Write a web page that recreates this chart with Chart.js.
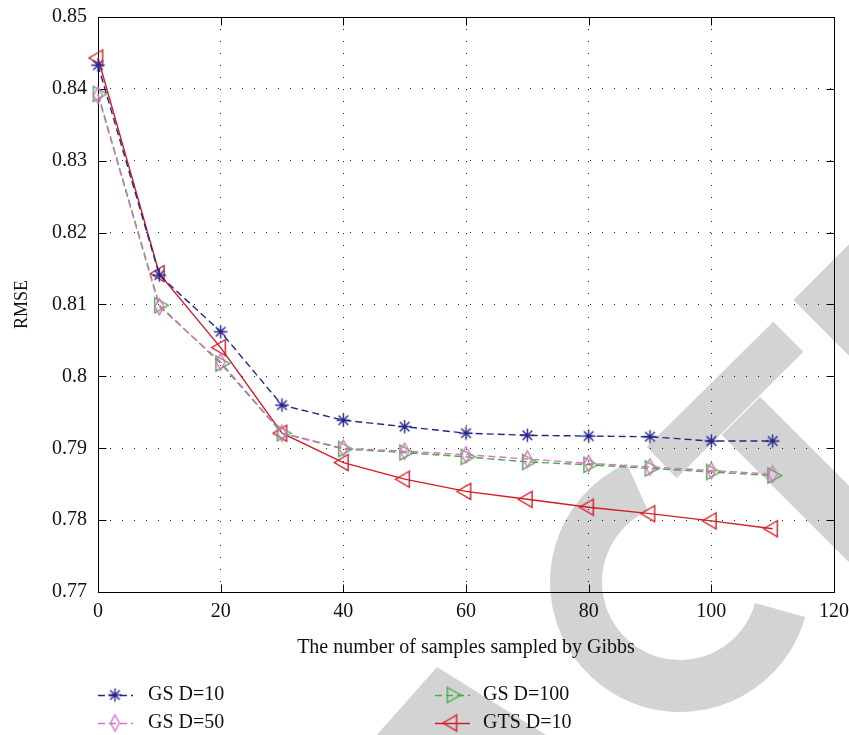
<!DOCTYPE html>
<html>
<head>
<meta charset="utf-8">
<script src="https://cdn.jsdelivr.net/npm/chart.js@4.4.0/dist/chart.umd.min.js"></script>
<style>
  html, body { margin: 0; padding: 0; background: #fff; }
  #wrap { width: 849px; height: 735px; }
</style>
</head>
<body>
<div id="wrap"><canvas id="chart" width="849" height="735"></canvas></div>
<script>
// ---- data ----
const samples = [0, 10, 20, 30, 40, 50, 60, 70, 80, 90, 100, 110];
const gsD10  = [0.8433, 0.8141, 0.8062, 0.7960, 0.7939, 0.7930, 0.7921, 0.7918, 0.7917, 0.7916, 0.7910, 0.7910];
const gsD50  = [0.8391, 0.8097, 0.8020, 0.7921, 0.7900, 0.7896, 0.7891, 0.7885, 0.7879, 0.7874, 0.7869, 0.7864];
const gsD100 = [0.8393, 0.8099, 0.8018, 0.7921, 0.7899, 0.7894, 0.7888, 0.7881, 0.7877, 0.7872, 0.7867, 0.7862];
const gtsD10 = [0.8443, 0.8143, 0.8040, 0.7921, 0.7880, 0.7857, 0.7840, 0.7829, 0.7818, 0.7809, 0.7799, 0.7788];

const seriesLabels = ["GS D=10", "GS D=50", "GS D=100", "GTS D=10"];
const xTitle = "The number of samples sampled by Gibbs";
const yTitle = "RMSE";

// colours
const BLUE  = "rgb(38,38,138)";
const PINK  = "rgb(216,112,196)";
const GREEN = "rgb(72,170,72)";
const RED   = "rgb(212,28,38)";
const SERIF = "'Liberation Serif', 'Times New Roman', serif";

// ---- matlab-like marker glyphs ----
function glyph(w, h, draw) {
  const c = document.createElement("canvas");
  c.width = w; c.height = h;
  const g = c.getContext("2d");
  g.lineWidth = 1.4;
  draw(g, w / 2, h / 2);
  return c;
}

const starMark = glyph(17, 17, (g, cx, cy) => {
  const r = 6.8, d = r / Math.SQRT2;
  g.strokeStyle = BLUE;
  g.beginPath();
  g.moveTo(cx - r, cy); g.lineTo(cx + r, cy);
  g.moveTo(cx, cy - r); g.lineTo(cx, cy + r);
  g.moveTo(cx - d, cy - d); g.lineTo(cx + d, cy + d);
  g.moveTo(cx - d, cy + d); g.lineTo(cx + d, cy - d);
  g.stroke();
});

const diamondMark = glyph(13, 21, (g, cx, cy) => {
  g.strokeStyle = PINK;
  g.beginPath();
  g.moveTo(cx, cy - 8); g.lineTo(cx + 4.5, cy);
  g.lineTo(cx, cy + 8); g.lineTo(cx - 4.5, cy);
  g.closePath(); g.stroke();
});

const triRightMark = glyph(21, 21, (g, cx, cy) => {
  g.strokeStyle = GREEN;
  g.beginPath();
  g.moveTo(cx - 4.7, cy - 7.5); g.lineTo(cx + 9, cy);
  g.lineTo(cx - 4.7, cy + 7.5);
  g.closePath(); g.stroke();
});

const triLeftMark = glyph(21, 21, (g, cx, cy) => {
  g.strokeStyle = RED;
  g.beginPath();
  g.moveTo(cx + 4.7, cy - 8); g.lineTo(cx - 9, cy);
  g.lineTo(cx + 4.7, cy + 8);
  g.closePath(); g.stroke();
});

function series(label, data, color, mark, dash) {
  return {
    label, data: samples.map((x, i) => ({ x, y: data[i] })),
    borderColor: color, borderWidth: 1.4, borderDash: dash,
    pointStyle: mark, pointRadius: 8, pointHoverRadius: 8,
    fill: false, tension: 0, clip: false
  };
}

// ---- grey watermark that sits behind the figure ----
const watermark = {
  id: "watermark",
  beforeDraw(chart) {
    const ctx = chart.ctx;
    ctx.save();
    ctx.fillStyle = ctx.strokeStyle = "rgb(211,211,211)";
    ctx.lineWidth = 52;
    ctx.beginPath();
    ctx.arc(680, 582, 104, 15.6 * Math.PI / 180, 245.8 * Math.PI / 180);
    ctx.stroke();
    const polys = [
      [[646.7, 446.7], [773.3, 321.7], [803.3, 351.7], [676.7, 478.3]],
      [[760, 396.7], [900, 536.7], [900, 613.3], [721.7, 435]],
      [[793.3, 300], [900, 193.3], [900, 406.7]],
      [[437, 667], [562, 745], [368, 745]]
    ];
    for (const p of polys) {
      ctx.beginPath();
      ctx.moveTo(p[0][0], p[0][1]);
      for (let i = 1; i < p.length; i++) ctx.lineTo(p[i][0], p[i][1]);
      ctx.closePath(); ctx.fill();
    }
    ctx.restore();
  }
};

// ---- box around the axes with inward ticks ----
const boxFrame = {
  id: "boxFrame",
  beforeDatasetsDraw(chart) {
    const { ctx, chartArea: a, scales } = chart;
    const L = Math.round(a.left) + 0.5, R = Math.round(a.right) + 0.5;
    const T = Math.round(a.top) + 0.5, B = Math.round(a.bottom) + 0.5;
    const len = 8;
    ctx.save();
    ctx.strokeStyle = "#000";
    ctx.lineWidth = 1;
    ctx.beginPath();
    for (const t of scales.x.ticks) {
      const px = Math.round(scales.x.getPixelForValue(t.value)) + 0.5;
      ctx.moveTo(px, B); ctx.lineTo(px, B - len);
      ctx.moveTo(px, T); ctx.lineTo(px, T + len);
    }
    for (const t of scales.y.ticks) {
      const py = Math.round(scales.y.getPixelForValue(t.value)) + 0.5;
      ctx.moveTo(L, py); ctx.lineTo(L + len, py);
      ctx.moveTo(R, py); ctx.lineTo(R - len, py);
    }
    ctx.stroke();
    ctx.strokeRect(L, T, R - L, B - T);
    ctx.restore();
  }
};

// ---- legend: two columns under the axis title ----
const bottomLegend = {
  id: "bottomLegend",
  afterDraw(chart) {
    const ctx = chart.ctx;
    const cols = [{ sx: 115, tx: 148 }, { sx: 452, tx: 483 }];
    const rows = [695, 723];
    ctx.save();
    ctx.font = "20px " + SERIF;
    ctx.textBaseline = "middle";
    ctx.fillStyle = "#111";
    chart.data.datasets.forEach((ds, i) => {
      const c = cols[Math.floor(i / 2)], y = rows[i % 2];
      ctx.strokeStyle = ds.borderColor;
      ctx.lineWidth = ds.borderWidth;
      ctx.setLineDash(ds.borderDash || []);
      ctx.beginPath();
      ctx.moveTo(c.sx - 17, y + 0.5); ctx.lineTo(c.sx + 18, y + 0.5);
      ctx.stroke();
      ctx.setLineDash([]);
      const m = ds.pointStyle;
      ctx.drawImage(m, c.sx - m.width / 2, y - m.height / 2);
      ctx.fillText(ds.label, c.tx, y);
    });
    ctx.restore();
  }
};

Chart.defaults.font.family = SERIF;
Chart.defaults.font.size = 20;
Chart.defaults.color = "#111";

new Chart(document.getElementById("chart"), {
  type: "line",
  data: {
    datasets: [
      series(seriesLabels[0], gsD10, BLUE, starMark, [7, 4]),
      series(seriesLabels[1], gsD50, PINK, diamondMark, [7, 4]),
      series(seriesLabels[2], gsD100, GREEN, triRightMark, [7, 4]),
      series(seriesLabels[3], gtsD10, RED, triLeftMark, [])
    ]
  },
  options: {
    responsive: false,
    animation: false,
    devicePixelRatio: 1,
    events: [],
    layout: { padding: { top: 17, right: 15, bottom: 0, left: 0 } },
    plugins: { legend: { display: false }, tooltip: { enabled: false } },
    scales: {
      x: {
        type: "linear", min: 0, max: 120,
        ticks: { stepSize: 20, padding: 8 },
        grid: { color: "rgba(0,0,0,0.85)", lineWidth: 1, drawTicks: false, borderDash: [1, 11] },
        border: { display: false, dash: [1, 11] },
        title: { display: true, text: xTitle, font: { size: 20 }, padding: { top: 0, bottom: 75 } },
        afterFit(s) { s.height = 143; s.paddingLeft = 0; s.paddingRight = 0; }
      },
      y: {
        type: "linear", min: 0.77, max: 0.85,
        ticks: { stepSize: 0.01, padding: 11, callback: v => String(+v.toFixed(2)) },
        grid: { color: "rgba(0,0,0,0.85)", lineWidth: 1, drawTicks: false, borderDash: [1, 11] },
        border: { display: false, dash: [1, 11] },
        title: { display: true, text: yTitle, font: { size: 18 }, padding: { top: 11, bottom: 0 } },
        afterFit(s) { s.width = 98; s.paddingTop = 0; s.paddingBottom = 0; }
      }
    }
  },
  plugins: [watermark, boxFrame, bottomLegend]
});
</script>
</body>
</html>
